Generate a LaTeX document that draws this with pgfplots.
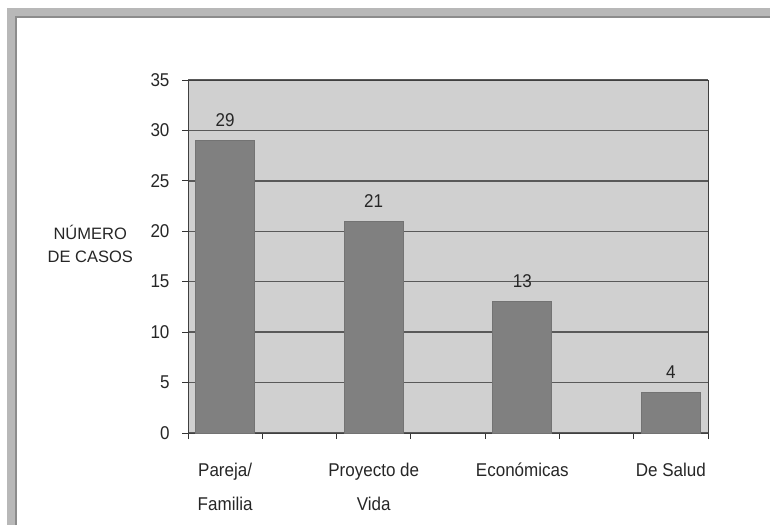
\documentclass[border=0pt]{standalone}
\usepackage{fontspec}
\setmainfont{Liberation Sans}
\newfontfamily\narrowfont[FakeStretch=0.92]{Liberation Sans}
\usepackage{pgfplots}
\pgfplotsset{compat=1.18}
\definecolor{plotbg}{RGB}{208,208,208}
\definecolor{barfill}{RGB}{128,128,128}
\definecolor{frameg}{RGB}{184,184,184}
\definecolor{frameedge}{RGB}{140,140,140}
\newcommand\chartfont{\narrowfont\fontsize{18.5}{21}\selectfont}
\newcommand\st{\rule{0pt}{17pt}}
\begin{document}
\begin{tikzpicture}
\path[use as bounding box] (0,0) rectangle (770pt,525pt);
% outer frame of the picture
\fill[frameg] (7pt,0) rectangle (16pt,517pt);
\fill[frameg] (7pt,508pt) rectangle (770pt,517pt);
\draw[frameedge, line width=1.2pt] (16pt,0) -- (16pt,508pt) -- (770pt,508pt);
\begin{axis}[
  at={(188pt,92pt)}, anchor=south west,
  scale only axis, width=520pt, height=353pt,
  /pgf/number format/assume math mode=true,
  axis background/.style={fill=plotbg},
  xmin=0, xmax=7, ymin=0, ymax=35,
  ytick={0,5,...,35},
  xtick={0.5,2.5,4.5,6.5},
  xticklabels={{\st Pareja/\\[13pt]Familia},{\st Proyecto de\\[13pt]Vida},{\st Económicas},{\st De Salud}},
  minor xtick={0,1,...,7},
  xtick pos=bottom, ytick pos=left,
  tick align=outside,
  major tick length=6pt, minor tick length=6pt,
  major x tick style={draw=none},
  tick style={black!80, line width=1pt},
  ticklabel style={font=\chartfont, text=black!85},
  xticklabel style={align=center, anchor=north, yshift=-17pt},
  yticklabel style={xshift=-9pt},
  ymajorgrids,
  grid style={black!65, line width=1.4pt},
  axis line style={black!75, line width=1pt},
  ylabel={NÚMERO\\DE CASOS},
  ylabel style={font=\fontsize{16.5}{23}\selectfont, text=black!85, rotate=-90, align=center, anchor=center, at={(axis description cs:-0.188,0.535)}},
  ybar, bar width=59pt,
  nodes near coords,
  nodes near coords style={font=\chartfont, anchor=south, yshift=10pt, text=black!85},
]
\addplot[fill=barfill, draw=black!55, line width=0.8pt] coordinates {
  (0.5,29) (2.5,21) (4.5,13) (6.5,4)
};
\end{axis}
\end{tikzpicture}
\end{document}
